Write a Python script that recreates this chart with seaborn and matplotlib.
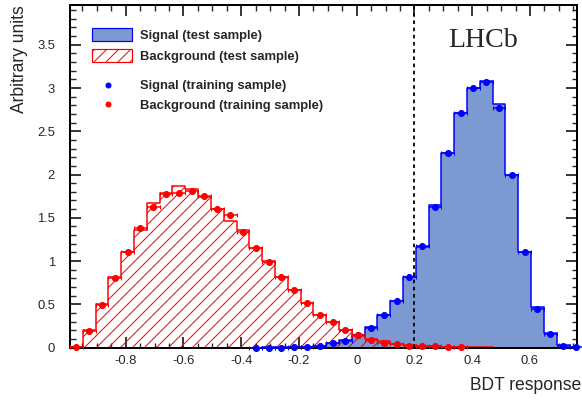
import numpy as np
import pandas as pd
import matplotlib
matplotlib.use("Agg")
import matplotlib.pyplot as plt
import seaborn as sns
from matplotlib.patches import Patch
from matplotlib.lines import Line2D
from matplotlib.ticker import MultipleLocator, FormatStrFormatter

# binning of the BDT response (40 bins)
bdt_lo = -0.993
bdt_width = 0.04436
n_bins = 40

# test sample histograms (bin contents, arbitrary units)
sig_test = [0, 0, 0, 0, 0, 0, 0, 0, 0, 0,
            0, 0, 0, 0, 0.0, 0.002, 0.003, 0.005, 0.01, 0.02,
            0.05, 0.085, 0.15, 0.24, 0.38, 0.54, 0.81, 1.165, 1.65, 2.25,
            2.71, 3.00, 3.08, 2.81, 2.00, 1.10, 0.465, 0.165, 0.03, 0.01]
bkg_test = [0.01, 0.20, 0.50, 0.81, 1.10, 1.36, 1.67, 1.79, 1.87, 1.83,
            1.74, 1.60, 1.46, 1.36, 1.15, 1.00, 0.82, 0.67, 0.52, 0.37,
            0.29, 0.20, 0.13, 0.095, 0.07, 0.04, 0.025, 0.02, 0.012, 0.01,
            0.006, 0.004, 0.002, 0, 0, 0, 0, 0, 0, 0]

# training sample points (None = no point drawn)
sig_train = [None] * 14 + [
            0.0, 0.0, 0.0, 0.005, 0.01, 0.02,
            0.05, 0.075, 0.145, 0.22, 0.375, 0.54, 0.81, 1.17, 1.63, 2.25,
            2.71, 3.00, 3.07, 2.77, 2.00, 1.10, 0.45, 0.16, 0.02, 0.005]
bkg_train = [0.01, 0.195, 0.495, 0.80, 1.10, 1.38, 1.62, 1.78, 1.79, 1.81,
             1.75, 1.60, 1.53, 1.34, 1.15, 0.99, 0.81, 0.665, 0.51, 0.37,
             0.29, 0.20, 0.145, 0.087, 0.055, 0.035, 0.02, 0.02, 0.012, 0.01,
             0.008] + [None] * 9

labels = ["Signal (test sample)", "Background (test sample)",
          "Signal (training sample)", "Background (training sample)"]

sig_fill = "#7d99d1"
sig_line = "#0000ff"
bkg_line = "#ff0000"

edges = bdt_lo + bdt_width * np.arange(n_bins + 1)
centers = 0.5 * (edges[:-1] + edges[1:])
df = pd.DataFrame({
    "bdt": centers,
    "sig_test": sig_test,
    "bkg_test": bkg_test,
    "sig_train": pd.to_numeric(pd.Series(sig_train, dtype=object), errors="coerce"),
    "bkg_train": pd.to_numeric(pd.Series(bkg_train, dtype=object), errors="coerce"),
})

sns.set_style("ticks")
plt.rcParams["font.family"] = ["Liberation Sans", "DejaVu Sans"]
plt.rcParams["hatch.linewidth"] = 1.0

# dpi 72 -> 1 pt == 1 px
fig = plt.figure(figsize=(582 / 72, 400 / 72), dpi=72)
ax = fig.add_axes([70 / 582, 1 - 347.5 / 400, 507 / 582, 342.5 / 400])

sns.histplot(data=df, x="bdt", weights="sig_test", bins=n_bins,
             binrange=(edges[0], edges[-1]), element="step", color=sig_line,
             fill=True, facecolor=sig_fill, edgecolor=sig_line, linewidth=1.5,
             alpha=1, ax=ax)
sns.histplot(data=df, x="bdt", weights="bkg_test", bins=n_bins,
             binrange=(edges[0], edges[-1]), element="step", color=bkg_line,
             fill=True, facecolor="none", edgecolor=bkg_line, linewidth=1.5,
             hatch="//", alpha=1, ax=ax)

ax.errorbar(df["bdt"], df["sig_train"], xerr=bdt_width / 2, fmt="o", color=sig_line,
            ms=6, elinewidth=1.5, capsize=2, clip_on=False, zorder=5)
ax.errorbar(df["bdt"], df["bkg_train"], xerr=bdt_width / 2, fmt="o", color=bkg_line,
            ms=6, elinewidth=1.5, capsize=2, clip_on=False, zorder=6)

ax.axvline(0.2, color="black", ls=(0, (2, 2)), lw=1.8, zorder=7)

ax.set_xlim(bdt_lo, 0.763)
ax.set_ylim(0, 3.96)

ax.xaxis.set_major_locator(MultipleLocator(0.2))
ax.xaxis.set_minor_locator(MultipleLocator(0.05))
ax.yaxis.set_major_locator(MultipleLocator(0.5))
ax.yaxis.set_minor_locator(MultipleLocator(0.1))
ax.xaxis.set_major_formatter(FormatStrFormatter("%g"))
ax.yaxis.set_major_formatter(FormatStrFormatter("%g"))
ax.tick_params(which="both", direction="in", top=True, right=True, labelsize=13)
ax.tick_params(which="major", length=11, width=1.8)
ax.tick_params(which="minor", length=5.5, width=1.4)
ax.tick_params(axis="y", which="both", pad=15)
ax.tick_params(axis="x", which="both", pad=8)
for s in ax.spines.values():
    s.set_linewidth(2)
    s.set_color("black")

ax.set_xlabel("BDT response", fontsize=17.5, loc="right")
ax.set_ylabel("Arbitrary units", fontsize=17.5, loc="top")
ax.xaxis.set_label_coords(1.009, -0.087)
ax.yaxis.set_label_coords(-0.083, 1.0)

ax.text(0.8146, 0.877, "LHCb", transform=ax.transAxes, ha="center", va="baseline",
        fontsize=28, family="Liberation Serif")

# legend: test histograms, then training points
h1 = [Patch(facecolor=sig_fill, edgecolor=sig_line, linewidth=1.2),
      Patch(facecolor="none", edgecolor=bkg_line, hatch="//", linewidth=1.2)]
leg1 = ax.legend(h1, labels[:2], loc="upper left", bbox_to_anchor=(0.0428, 0.9337),
                 frameon=False, borderpad=0, borderaxespad=0, handlelength=3.08,
                 handleheight=1.2, handletextpad=0.64, labelspacing=0.55,
                 prop={"size": 13, "weight": "bold"})
ax.add_artist(leg1)
h2 = [Line2D([], [], ls="none", marker="o", ms=5, color=sig_line),
      Line2D([], [], ls="none", marker="o", ms=5, color=bkg_line)]
ax.legend(h2, labels[2:], loc="upper left", bbox_to_anchor=(0.0428, 0.7804),
          frameon=False, borderpad=0, borderaxespad=0, handlelength=2.46,
          handletextpad=1.25, labelspacing=0.56, prop={"size": 13, "weight": "bold"})

fig.savefig("out.png", dpi=72)
